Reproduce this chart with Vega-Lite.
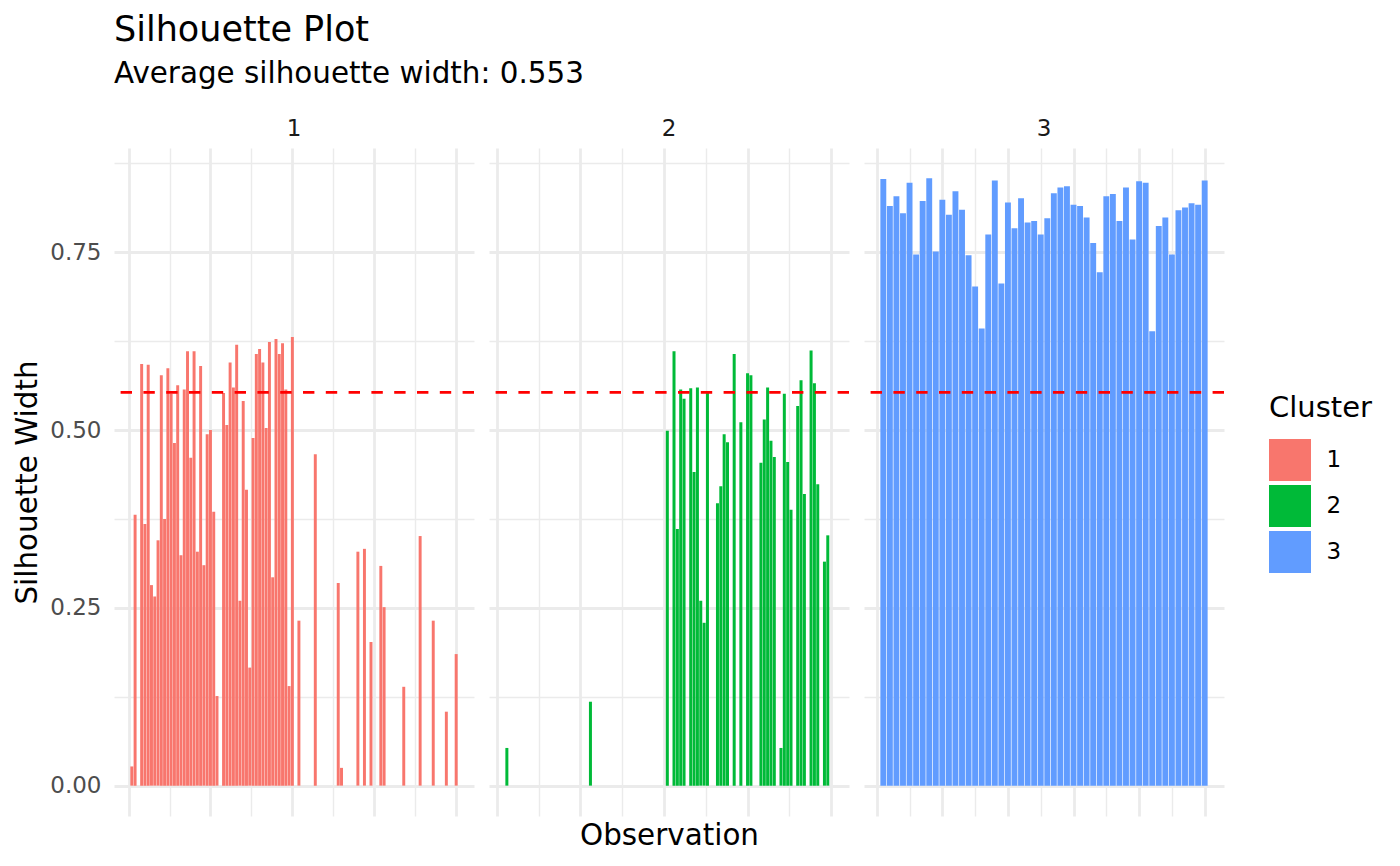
{
  "$schema": "https://vega.github.io/schema/vega-lite/v6.json",
  "background": "white",
  "padding": {"left": 12, "top": 12, "right": 10, "bottom": 5},
  "title": {
    "text": "Silhouette Plot",
    "subtitle": "Average silhouette width: 0.553",
    "anchor": "start",
    "frame": "group",
    "font": "DejaVu Sans",
    "fontSize": 35,
    "fontWeight": "normal",
    "color": "#000000",
    "subtitleFont": "DejaVu Sans",
    "subtitleFontSize": 29.4,
    "subtitleFontWeight": "normal",
    "subtitleColor": "#000000",
    "subtitlePadding": 12,
    "offset": 30
  },
  "datasets": {
    "sil": [
      {"obs": 51, "cluster": "1", "sil": 0.027},
      {"obs": 52, "cluster": "1", "sil": 0.381},
      {"obs": 54, "cluster": "1", "sil": 0.593},
      {"obs": 55, "cluster": "1", "sil": 0.368},
      {"obs": 56, "cluster": "1", "sil": 0.592},
      {"obs": 57, "cluster": "1", "sil": 0.282},
      {"obs": 58, "cluster": "1", "sil": 0.266},
      {"obs": 59, "cluster": "1", "sil": 0.345},
      {"obs": 60, "cluster": "1", "sil": 0.577},
      {"obs": 61, "cluster": "1", "sil": 0.375},
      {"obs": 62, "cluster": "1", "sil": 0.587},
      {"obs": 63, "cluster": "1", "sil": 0.551},
      {"obs": 64, "cluster": "1", "sil": 0.482},
      {"obs": 65, "cluster": "1", "sil": 0.563},
      {"obs": 66, "cluster": "1", "sil": 0.324},
      {"obs": 67, "cluster": "1", "sil": 0.557},
      {"obs": 68, "cluster": "1", "sil": 0.611},
      {"obs": 69, "cluster": "1", "sil": 0.461},
      {"obs": 70, "cluster": "1", "sil": 0.611},
      {"obs": 71, "cluster": "1", "sil": 0.329},
      {"obs": 72, "cluster": "1", "sil": 0.590},
      {"obs": 73, "cluster": "1", "sil": 0.310},
      {"obs": 74, "cluster": "1", "sil": 0.494},
      {"obs": 75, "cluster": "1", "sil": 0.500},
      {"obs": 76, "cluster": "1", "sil": 0.385},
      {"obs": 77, "cluster": "1", "sil": 0.126},
      {"obs": 79, "cluster": "1", "sil": 0.552},
      {"obs": 80, "cluster": "1", "sil": 0.507},
      {"obs": 81, "cluster": "1", "sil": 0.595},
      {"obs": 82, "cluster": "1", "sil": 0.560},
      {"obs": 83, "cluster": "1", "sil": 0.620},
      {"obs": 84, "cluster": "1", "sil": 0.260},
      {"obs": 85, "cluster": "1", "sil": 0.541},
      {"obs": 86, "cluster": "1", "sil": 0.416},
      {"obs": 87, "cluster": "1", "sil": 0.166},
      {"obs": 88, "cluster": "1", "sil": 0.489},
      {"obs": 89, "cluster": "1", "sil": 0.607},
      {"obs": 90, "cluster": "1", "sil": 0.614},
      {"obs": 91, "cluster": "1", "sil": 0.595},
      {"obs": 92, "cluster": "1", "sil": 0.503},
      {"obs": 93, "cluster": "1", "sil": 0.624},
      {"obs": 94, "cluster": "1", "sil": 0.293},
      {"obs": 95, "cluster": "1", "sil": 0.628},
      {"obs": 96, "cluster": "1", "sil": 0.607},
      {"obs": 97, "cluster": "1", "sil": 0.622},
      {"obs": 98, "cluster": "1", "sil": 0.557},
      {"obs": 99, "cluster": "1", "sil": 0.140},
      {"obs": 100, "cluster": "1", "sil": 0.631},
      {"obs": 102, "cluster": "1", "sil": 0.232},
      {"obs": 107, "cluster": "1", "sil": 0.466},
      {"obs": 114, "cluster": "1", "sil": 0.285},
      {"obs": 115, "cluster": "1", "sil": 0.025},
      {"obs": 120, "cluster": "1", "sil": 0.329},
      {"obs": 122, "cluster": "1", "sil": 0.333},
      {"obs": 124, "cluster": "1", "sil": 0.202},
      {"obs": 127, "cluster": "1", "sil": 0.309},
      {"obs": 128, "cluster": "1", "sil": 0.251},
      {"obs": 134, "cluster": "1", "sil": 0.139},
      {"obs": 139, "cluster": "1", "sil": 0.351},
      {"obs": 143, "cluster": "1", "sil": 0.232},
      {"obs": 147, "cluster": "1", "sil": 0.104},
      {"obs": 150, "cluster": "1", "sil": 0.185},
      {"obs": 53, "cluster": "2", "sil": 0.053},
      {"obs": 78, "cluster": "2", "sil": 0.118},
      {"obs": 101, "cluster": "2", "sil": 0.499},
      {"obs": 103, "cluster": "2", "sil": 0.611},
      {"obs": 104, "cluster": "2", "sil": 0.361},
      {"obs": 105, "cluster": "2", "sil": 0.557},
      {"obs": 106, "cluster": "2", "sil": 0.544},
      {"obs": 108, "cluster": "2", "sil": 0.559},
      {"obs": 109, "cluster": "2", "sil": 0.441},
      {"obs": 110, "cluster": "2", "sil": 0.560},
      {"obs": 111, "cluster": "2", "sil": 0.260},
      {"obs": 112, "cluster": "2", "sil": 0.229},
      {"obs": 113, "cluster": "2", "sil": 0.555},
      {"obs": 116, "cluster": "2", "sil": 0.397},
      {"obs": 117, "cluster": "2", "sil": 0.421},
      {"obs": 118, "cluster": "2", "sil": 0.494},
      {"obs": 119, "cluster": "2", "sil": 0.483},
      {"obs": 121, "cluster": "2", "sil": 0.607},
      {"obs": 123, "cluster": "2", "sil": 0.511},
      {"obs": 125, "cluster": "2", "sil": 0.580},
      {"obs": 126, "cluster": "2", "sil": 0.577},
      {"obs": 129, "cluster": "2", "sil": 0.454},
      {"obs": 130, "cluster": "2", "sil": 0.515},
      {"obs": 131, "cluster": "2", "sil": 0.560},
      {"obs": 132, "cluster": "2", "sil": 0.485},
      {"obs": 133, "cluster": "2", "sil": 0.462},
      {"obs": 135, "cluster": "2", "sil": 0.053},
      {"obs": 136, "cluster": "2", "sil": 0.551},
      {"obs": 137, "cluster": "2", "sil": 0.455},
      {"obs": 138, "cluster": "2", "sil": 0.388},
      {"obs": 140, "cluster": "2", "sil": 0.534},
      {"obs": 141, "cluster": "2", "sil": 0.570},
      {"obs": 142, "cluster": "2", "sil": 0.410},
      {"obs": 144, "cluster": "2", "sil": 0.612},
      {"obs": 145, "cluster": "2", "sil": 0.566},
      {"obs": 146, "cluster": "2", "sil": 0.424},
      {"obs": 148, "cluster": "2", "sil": 0.315},
      {"obs": 149, "cluster": "2", "sil": 0.352},
      {"obs": 1, "cluster": "3", "sil": 0.853},
      {"obs": 2, "cluster": "3", "sil": 0.815},
      {"obs": 3, "cluster": "3", "sil": 0.829},
      {"obs": 4, "cluster": "3", "sil": 0.805},
      {"obs": 5, "cluster": "3", "sil": 0.848},
      {"obs": 6, "cluster": "3", "sil": 0.747},
      {"obs": 7, "cluster": "3", "sil": 0.822},
      {"obs": 8, "cluster": "3", "sil": 0.854},
      {"obs": 9, "cluster": "3", "sil": 0.751},
      {"obs": 10, "cluster": "3", "sil": 0.824},
      {"obs": 11, "cluster": "3", "sil": 0.803},
      {"obs": 12, "cluster": "3", "sil": 0.836},
      {"obs": 13, "cluster": "3", "sil": 0.810},
      {"obs": 14, "cluster": "3", "sil": 0.746},
      {"obs": 15, "cluster": "3", "sil": 0.702},
      {"obs": 16, "cluster": "3", "sil": 0.643},
      {"obs": 17, "cluster": "3", "sil": 0.775},
      {"obs": 18, "cluster": "3", "sil": 0.851},
      {"obs": 19, "cluster": "3", "sil": 0.706},
      {"obs": 20, "cluster": "3", "sil": 0.820},
      {"obs": 21, "cluster": "3", "sil": 0.784},
      {"obs": 22, "cluster": "3", "sil": 0.826},
      {"obs": 23, "cluster": "3", "sil": 0.792},
      {"obs": 24, "cluster": "3", "sil": 0.794},
      {"obs": 25, "cluster": "3", "sil": 0.775},
      {"obs": 26, "cluster": "3", "sil": 0.798},
      {"obs": 27, "cluster": "3", "sil": 0.833},
      {"obs": 28, "cluster": "3", "sil": 0.841},
      {"obs": 29, "cluster": "3", "sil": 0.843},
      {"obs": 30, "cluster": "3", "sil": 0.817},
      {"obs": 31, "cluster": "3", "sil": 0.815},
      {"obs": 32, "cluster": "3", "sil": 0.799},
      {"obs": 33, "cluster": "3", "sil": 0.763},
      {"obs": 34, "cluster": "3", "sil": 0.722},
      {"obs": 35, "cluster": "3", "sil": 0.829},
      {"obs": 36, "cluster": "3", "sil": 0.832},
      {"obs": 37, "cluster": "3", "sil": 0.794},
      {"obs": 38, "cluster": "3", "sil": 0.841},
      {"obs": 39, "cluster": "3", "sil": 0.768},
      {"obs": 40, "cluster": "3", "sil": 0.850},
      {"obs": 41, "cluster": "3", "sil": 0.848},
      {"obs": 42, "cluster": "3", "sil": 0.639},
      {"obs": 43, "cluster": "3", "sil": 0.787},
      {"obs": 44, "cluster": "3", "sil": 0.799},
      {"obs": 45, "cluster": "3", "sil": 0.747},
      {"obs": 46, "cluster": "3", "sil": 0.809},
      {"obs": 47, "cluster": "3", "sil": 0.813},
      {"obs": 48, "cluster": "3", "sil": 0.819},
      {"obs": 49, "cluster": "3", "sil": 0.817},
      {"obs": 50, "cluster": "3", "sil": 0.851}
    ],
    "avg": [{"avg_width": 0.553}]
  },
  "spacing": 15,
  "bounds": "flush",
  "resolve": {"scale": {"color": "shared"}, "legend": {"color": "shared"}},
  "hconcat": [
    {
      "width": 360,
      "height": 668,
      "title": {"text": "1", "anchor": "middle", "font": "DejaVu Sans", "fontSize": 23, "fontWeight": "normal", "color": "#1a1a1a", "offset": 7},
      "layer": [
        {
          "data": {"name": "sil"},
          "transform": [{"filter": "datum.cluster == '1'"}],
          "mark": {"type": "bar", "width": 2.95},
          "encoding": {
            "x": {"field": "obs", "type": "quantitative", "scale": {"domain": [45.56, 155.44], "nice": false, "zero": false, "padding": 0},
              "axis": {"title": null, "labels": false, "ticks": false, "tickSize": 0, "domain": false, "grid": true, "gridColor": "#ebebeb",
                "values": [50, 62.5, 75, 87.5, 100, 112.5, 125, 137.5, 150],
                "gridWidth": {"condition": {"test": "datum.value % 25 == 0", "value": 2.8}, "value": 1.4}}},
            "y": {"field": "sil", "type": "quantitative", "stack": null, "scale": {"domain": [-0.0427, 0.8967], "nice": false, "zero": false, "padding": 0},
              "axis": {"title": "Silhouette Width", "titleFont": "DejaVu Sans", "titleFontSize": 29.4, "titleFontWeight": "normal", "titleColor": "#000000", "titlePadding": 7.5,
                "labelFont": "DejaVu Sans", "labelFontSize": 23, "labelColor": "#4d4d4d", "labelPadding": 13, "labelOverlap": false, "labelFlush": false,
                "labelExpr": "datum.value * 4 % 1 == 0 ? format(datum.value, '.2f') : ''",
                "ticks": false, "tickSize": 0, "domain": false, "grid": true, "gridColor": "#ebebeb",
                "values": [0, 0.125, 0.25, 0.375, 0.5, 0.625, 0.75, 0.875],
                "gridWidth": {"condition": {"test": "datum.value * 4 % 1 == 0", "value": 2.8}, "value": 1.4}}},
            "y2": {"datum": 0},
            "color": {"field": "cluster", "type": "nominal", "scale": {"domain": ["1", "2", "3"], "range": ["#F8766D", "#00BA38", "#619CFF"]},
              "legend": {"title": "Cluster", "orient": "none", "legendX": 1155, "legendY": 246}}
          }
        },
        {
          "data": {"name": "avg"},
          "mark": {"type": "rule", "color": "#ff0000", "strokeWidth": 2.8, "strokeDash": [11.4, 11.4]},
          "encoding": {"y": {"field": "avg_width", "type": "quantitative"}}
        }
      ]
    },
    {
      "width": 360,
      "height": 668,
      "title": {"text": "2", "anchor": "middle", "font": "DejaVu Sans", "fontSize": 23, "fontWeight": "normal", "color": "#1a1a1a", "offset": 7},
      "layer": [
        {
          "data": {"name": "sil"},
          "transform": [{"filter": "datum.cluster == '2'"}],
          "mark": {"type": "bar", "width": 3.0},
          "encoding": {
            "x": {"field": "obs", "type": "quantitative", "scale": {"domain": [47.655, 155.345], "nice": false, "zero": false, "padding": 0},
              "axis": {"title": "Observation", "titleFont": "DejaVu Sans", "titleFontSize": 29.4, "titleFontWeight": "normal", "titleColor": "#000000", "titlePadding": 5,
                "labels": false, "ticks": false, "tickSize": 0, "domain": false, "grid": true, "gridColor": "#ebebeb",
                "values": [50, 62.5, 75, 87.5, 100, 112.5, 125, 137.5, 150],
                "gridWidth": {"condition": {"test": "datum.value % 25 == 0", "value": 2.8}, "value": 1.4}}},
            "y": {"field": "sil", "type": "quantitative", "stack": null, "scale": {"domain": [-0.0427, 0.8967], "nice": false, "zero": false, "padding": 0},
              "axis": {"title": null, "labels": false, "ticks": false, "tickSize": 0, "domain": false, "grid": true, "gridColor": "#ebebeb",
                "values": [0, 0.125, 0.25, 0.375, 0.5, 0.625, 0.75, 0.875],
                "gridWidth": {"condition": {"test": "datum.value * 4 % 1 == 0", "value": 2.8}, "value": 1.4}}},
            "y2": {"datum": 0},
            "color": {"field": "cluster", "type": "nominal", "scale": {"domain": ["1", "2", "3"], "range": ["#F8766D", "#00BA38", "#619CFF"]},
              "legend": {"title": "Cluster", "orient": "none", "legendX": 1155, "legendY": 246}}
          }
        },
        {
          "data": {"name": "avg"},
          "mark": {"type": "rule", "color": "#ff0000", "strokeWidth": 2.8, "strokeDash": [11.4, 11.4]},
          "encoding": {"y": {"field": "avg_width", "type": "quantitative"}}
        }
      ]
    },
    {
      "width": 360,
      "height": 668,
      "title": {"text": "3", "anchor": "middle", "font": "DejaVu Sans", "fontSize": 23, "fontWeight": "normal", "color": "#1a1a1a", "offset": 7},
      "layer": [
        {
          "data": {"name": "sil"},
          "transform": [{"filter": "datum.cluster == '3'"}],
          "mark": {"type": "bar", "width": 5.9},
          "encoding": {
            "x": {"field": "obs", "type": "quantitative", "scale": {"domain": [-1.945, 52.945], "nice": false, "zero": false, "padding": 0},
              "axis": {"title": null, "labels": false, "ticks": false, "tickSize": 0, "domain": false, "grid": true, "gridColor": "#ebebeb",
                "values": [0, 5, 10, 15, 20, 25, 30, 35, 40, 45, 50],
                "gridWidth": {"condition": {"test": "datum.value % 10 == 0", "value": 2.8}, "value": 1.4}}},
            "y": {"field": "sil", "type": "quantitative", "stack": null, "scale": {"domain": [-0.0427, 0.8967], "nice": false, "zero": false, "padding": 0},
              "axis": {"title": null, "labels": false, "ticks": false, "tickSize": 0, "domain": false, "grid": true, "gridColor": "#ebebeb",
                "values": [0, 0.125, 0.25, 0.375, 0.5, 0.625, 0.75, 0.875],
                "gridWidth": {"condition": {"test": "datum.value * 4 % 1 == 0", "value": 2.8}, "value": 1.4}}},
            "y2": {"datum": 0},
            "color": {"field": "cluster", "type": "nominal", "scale": {"domain": ["1", "2", "3"], "range": ["#F8766D", "#00BA38", "#619CFF"]},
              "legend": {"title": "Cluster", "orient": "none", "legendX": 1155, "legendY": 246}}
          }
        },
        {
          "data": {"name": "avg"},
          "mark": {"type": "rule", "color": "#ff0000", "strokeWidth": 2.8, "strokeDash": [11.4, 11.4]},
          "encoding": {"y": {"field": "avg_width", "type": "quantitative"}}
        }
      ]
    }
  ],
  "config": {
    "view": {"stroke": null},
    "font": "DejaVu Sans",
    "legend": {
      "titleFont": "DejaVu Sans", "titleFontSize": 29, "titleFontWeight": "normal", "titleColor": "#000000", "titlePadding": 16,
      "labelFont": "DejaVu Sans", "labelFontSize": 23, "labelColor": "#000000", "labelOffset": 15.5,
      "symbolType": "square", "symbolSize": 1764, "symbolStrokeWidth": 0, "symbolOpacity": 1,
      "rowPadding": 4, "padding": 0
    }
  }
}
